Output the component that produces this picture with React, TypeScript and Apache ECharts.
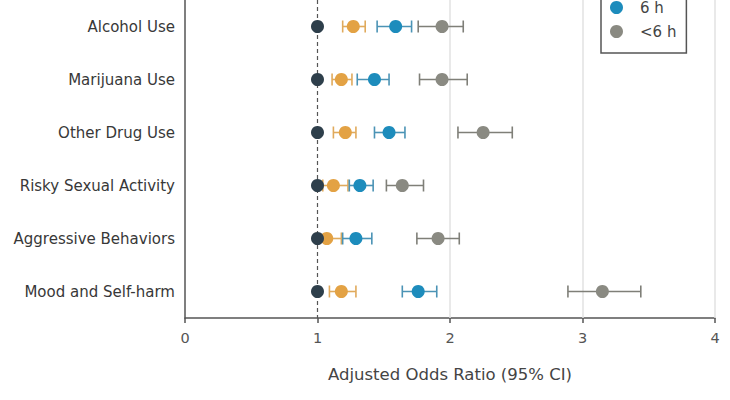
import React, { useEffect, useRef } from "react";
import * as echarts from "echarts";

const categories = [
  "Alcohol Use",
  "Marijuana Use",
  "Other Drug Use",
  "Risky Sexual Activity",
  "Aggressive Behaviors",
  "Mood and Self-harm",
];
const groupNames = ["≥8 h", "7 h", "6 h", "<6 h"];
const legendNames = ["6 h", "<6 h"];
const groupColors = ["#2e3f4b", "#e3a244", "#1d8cbc", "#8a8a82"];
const ciColors = ["#2e3f4b", "#e0aa5c", "#4b93b5", "#7f7f78"];

// odds ratios per group (reference = 1)
const refOR = [1, 1, 1, 1, 1, 1];
const or7 = [1.27, 1.18, 1.21, 1.12, 1.07, 1.18];
const lo7 = [1.19, 1.11, 1.12, 1.04, 0.99, 1.09];
const hi7 = [1.36, 1.26, 1.29, 1.23, 1.18, 1.29];
const or6 = [1.59, 1.43, 1.54, 1.32, 1.29, 1.76];
const lo6 = [1.45, 1.3, 1.43, 1.24, 1.19, 1.64];
const hi6 = [1.71, 1.54, 1.66, 1.42, 1.41, 1.9];
const orLt6 = [1.94, 1.94, 2.25, 1.64, 1.91, 3.15];
const loLt6 = [1.76, 1.77, 2.06, 1.52, 1.75, 2.89];
const hiLt6 = [2.1, 2.13, 2.47, 1.8, 2.07, 3.44];

const xTicks = [0, 1, 2, 3, 4];

const FONT = "DejaVu Sans";

export default function App() {
  const ref = useRef<HTMLDivElement>(null);
  useEffect(() => {
    if (!ref.current) return;
    const chart = echarts.init(ref.current, null, { renderer: "svg" });

    const ciSeries = (idx: number, lo: number[], hi: number[]) => ({
      type: "custom",
      name: groupNames[idx],
      z: 2,
      encode: { x: [0, 1], y: 2 },
      data: lo.map((l, i) => [l, hi[i], i]),
      renderItem: (params: any, api: any) => {
        const y = api.value(2);
        const a = api.coord([api.value(0), y]);
        const b = api.coord([api.value(1), y]);
        const h = 6;
        const style = { stroke: ciColors[idx], lineWidth: 1.6 };
        return {
          type: "group",
          children: [
            { type: "line", shape: { x1: a[0], y1: a[1], x2: b[0], y2: b[1] }, style },
            { type: "line", shape: { x1: a[0], y1: a[1] - h, x2: a[0], y2: a[1] + h }, style },
            { type: "line", shape: { x1: b[0], y1: b[1] - h, x2: b[0], y2: b[1] + h }, style },
          ],
        };
      },
    });

    const dotSeries = (idx: number, vals: number[], extra: any = {}) => ({
      type: "scatter",
      name: groupNames[idx],
      z: 3,
      symbol: "circle",
      symbolSize: 13,
      itemStyle: { color: groupColors[idx], opacity: 1 },
      data: vals.map((v, i) => [v, i]),
      ...extra,
    });

    chart.setOption({
      animation: false,
      backgroundColor: "#ffffff",
      textStyle: { fontFamily: FONT },
      grid: { left: 185, right: 15, top: -2, bottom: 82 },
      legend: {
        orient: "vertical",
        left: 601,
        top: -42,
        data: legendNames.map((n) => ({
          name: n,
          itemStyle: { color: groupColors[groupNames.indexOf(n)] },
        })),
        icon: "circle",
        itemWidth: 13,
        itemHeight: 13,
        itemGap: 9,
        padding: [42, 10, 14, 9],
        borderColor: "#555",
        borderWidth: 1.5,
        backgroundColor: "#fff",
        textStyle: {
          fontFamily: FONT,
          fontSize: 15,
          color: "#444",
          padding: [0, 0, 0, 12],
          lineHeight: 14,
        },
      },
      xAxis: {
        type: "value",
        min: 0,
        max: 4,
        interval: 1,
        name: "Adjusted Odds Ratio (95% CI)",
        nameLocation: "middle",
        nameGap: 48,
        nameTextStyle: { fontFamily: FONT, fontSize: 16.5, color: "#444" },
        axisLine: { show: true, lineStyle: { color: "#555", width: 1.5 } },
        axisTick: { show: true, length: 5, lineStyle: { color: "#555", width: 1.5 } },
        axisLabel: {
          fontFamily: FONT,
          fontSize: 14.5,
          color: "#555",
          margin: 12,
          formatter: (v: number) => (xTicks.includes(v) ? String(v) : ""),
        },
        splitLine: { show: false },
      },
      yAxis: {
        type: "category",
        data: categories,
        inverse: true,
        axisLine: { show: true, lineStyle: { color: "#555", width: 1.5 } },
        axisTick: { show: false },
        axisLabel: { fontFamily: FONT, fontSize: 15, color: "#383838", margin: 10 },
        splitLine: { show: false },
      },
      series: [
        dotSeries(0, refOR, {
          z: 4,
          markLine: {
            silent: true,
            symbol: "none",
            label: { show: false },
            z: 1,
            data: [
              { xAxis: 1, lineStyle: { color: "#555", type: [4, 3], width: 1.2 } },
              { xAxis: 2, lineStyle: { color: "#e2e2e2", type: "solid", width: 1.5 } },
              { xAxis: 3, lineStyle: { color: "#e2e2e2", type: "solid", width: 1.5 } },
              { xAxis: 4, lineStyle: { color: "#e2e2e2", type: "solid", width: 1.5 } },
            ],
          },
        }),
        ciSeries(1, lo7, hi7),
        dotSeries(1, or7),
        ciSeries(2, lo6, hi6),
        dotSeries(2, or6),
        ciSeries(3, loLt6, hiLt6),
        dotSeries(3, orLt6),
      ],
    });
    return () => chart.dispose();
  }, []);
  return (
    <div
      ref={ref}
      style={{ position: "absolute", left: 0, top: 0, width: 730, height: 400 }}
    />
  );
}
